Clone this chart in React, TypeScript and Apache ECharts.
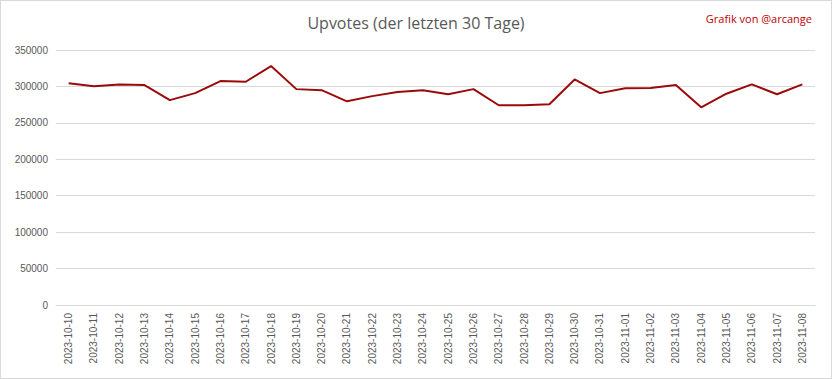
import React, { useEffect, useRef } from "react";
import * as echarts from "echarts";

const dates = [
  "2023-10-10", "2023-10-11", "2023-10-12", "2023-10-13", "2023-10-14", "2023-10-15",
  "2023-10-16", "2023-10-17", "2023-10-18", "2023-10-19", "2023-10-20", "2023-10-21",
  "2023-10-22", "2023-10-23", "2023-10-24", "2023-10-25", "2023-10-26", "2023-10-27",
  "2023-10-28", "2023-10-29", "2023-10-30", "2023-10-31", "2023-11-01", "2023-11-02",
  "2023-11-03", "2023-11-04", "2023-11-05", "2023-11-06", "2023-11-07", "2023-11-08",
];

const upvotes = [
  304500, 300200, 302700, 301800, 281200, 290800,
  307300, 306400, 327900, 296300, 294900, 279600,
  286700, 292200, 294900, 289200, 296300, 274200,
  274200, 275500, 309600, 290800, 297500, 297700,
  301800, 271400, 290000, 302900, 289200, 302900,
];

const titleText = "Upvotes (der letzten 30 Tage)";
const creditText = "Grafik von @arcange";

export default function App() {
  const ref = useRef<HTMLDivElement>(null);
  useEffect(() => {
    if (!ref.current) return;
    const chart = echarts.init(ref.current, undefined, { renderer: "svg" });
    chart.setOption({
      animation: false,
      backgroundColor: "#ffffff",
      title: [
        {
          text: titleText,
          left: "center",
          top: 9,
          textStyle: { fontFamily: "Open Sans", fontSize: 16, fontWeight: "normal", color: "#595959" },
        },
        {
          text: creditText,
          right: 14,
          top: 7,
          textStyle: { fontFamily: "Open Sans", fontSize: 11, fontWeight: "normal", color: "#c00000" },
        },
      ],
      grid: { left: 55, right: 16, top: 49, bottom: 73 },
      xAxis: {
        type: "category",
        data: dates,
        boundaryGap: true,
        axisLine: { lineStyle: { color: "#d9d9d9" } },
        axisTick: { show: false },
        axisLabel: {
          rotate: 90,
          interval: 0,
          color: "#595959",
          fontFamily: "Liberation Sans",
          fontSize: 10,
          margin: 8,
        },
      },
      yAxis: {
        type: "value",
        min: 0,
        max: 350000,
        interval: 50000,
        axisLine: { show: false },
        axisTick: { show: false },
        splitLine: { lineStyle: { color: "#d9d9d9" } },
        axisLabel: {
          color: "#595959",
          fontFamily: "Liberation Sans",
          fontSize: 10,
          margin: 8,
          formatter: (v: number) => String(v),
        },
      },
      series: [
        {
          type: "line",
          data: upvotes,
          symbol: "none",
          lineStyle: { color: "#9b0a0a", width: 2 },
          itemStyle: { color: "#9b0a0a" },
        },
      ],
    });
    return () => chart.dispose();
  }, []);
  return (
    <div
      style={{
        position: "fixed",
        left: 0,
        top: 0,
        width: 832,
        height: 379,
        boxSizing: "border-box",
        border: "1px solid #d9d9d9",
        background: "#fff",
      }}
    >
      <div ref={ref} style={{ width: 830, height: 377 }} />
    </div>
  );
}
